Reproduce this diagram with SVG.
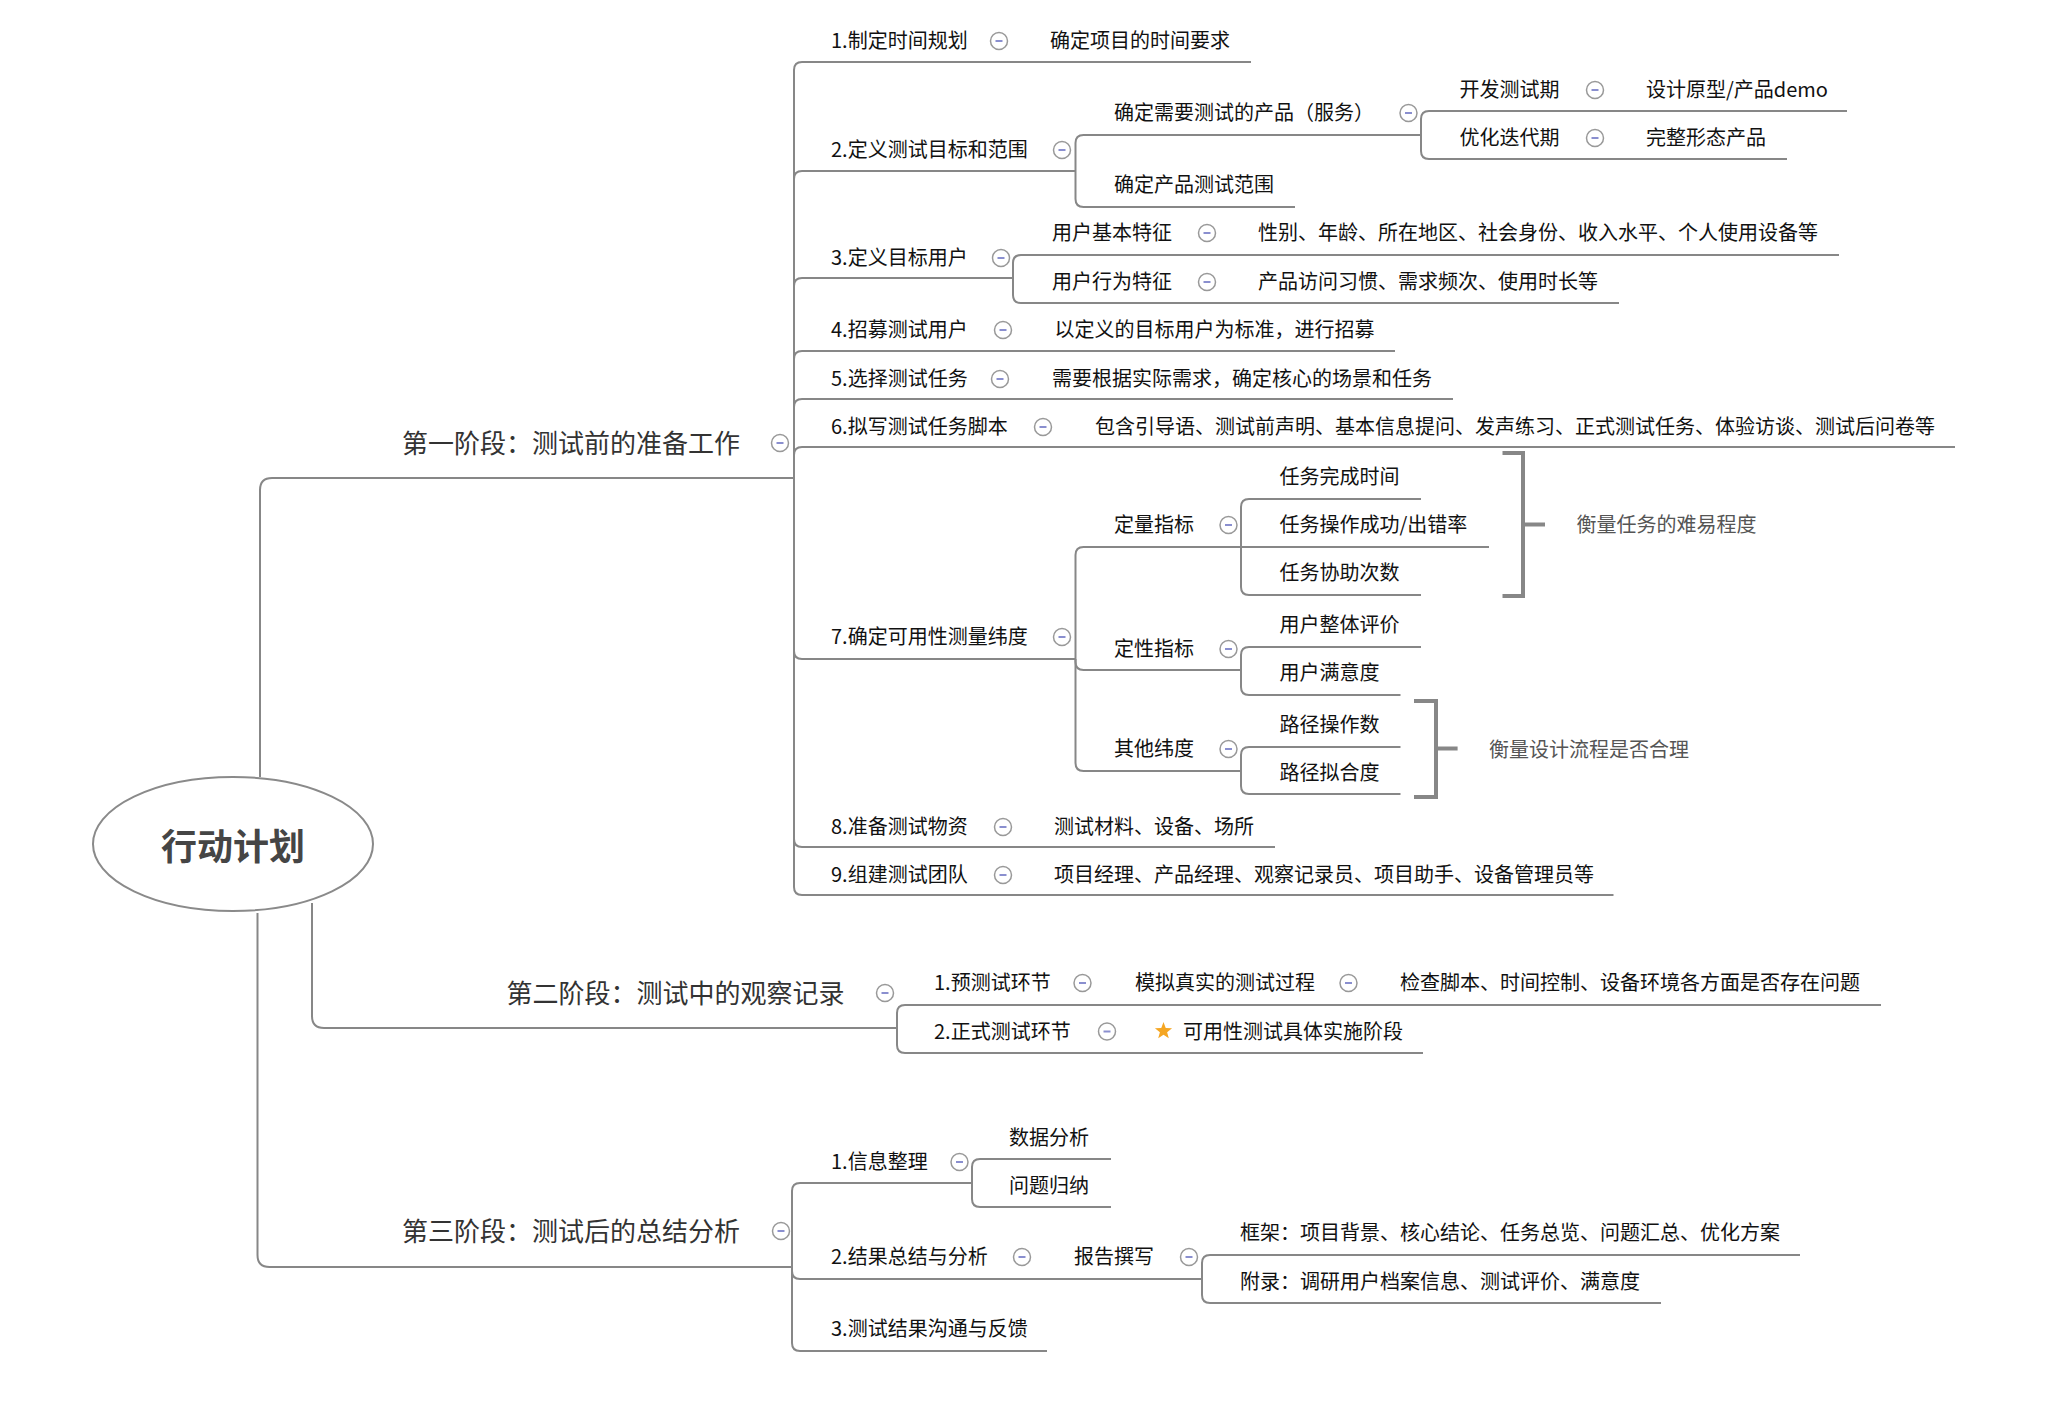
<svg xmlns="http://www.w3.org/2000/svg" xmlns:xlink="http://www.w3.org/1999/xlink" width="2050" height="1414" viewBox="0 0 2050 1414">
<style>
text{font-family:"Noto Sans CJK SC","Noto Sans",sans-serif;dominant-baseline:central;transform:translateY(-1.5px)}
.t{font-size:20px;fill:#111}
.s{font-size:26px;fill:#333}
.r{font-size:36px;font-weight:bold;fill:#454545}
.n{font-size:20px;fill:#555}
.ln{fill:none;stroke:#878787;stroke-width:2}
.br{fill:none;stroke:#878787;stroke-width:4}
</style>
<defs>
<g id="cb"><circle r="8.5" fill="#fff" stroke="#999" stroke-width="1.5"/><line x1="-3.5" x2="3.5" y1="0" y2="0" stroke="#8a8fcf" stroke-width="2"/></g>
</defs>
<rect width="2050" height="1414" fill="#fff"/>
<g id="connectors" class="ln">
<path d="M260,777 V490 Q260,478 272,478 H794"/>
<path d="M312,903 V1016 Q312,1028 324,1028 H897"/>
<path d="M257.5,913 V1255 Q257.5,1267 269.5,1267 H792"/>
<path d="M794,478 V70 Q794,62 802,62 H1251"/>
<path d="M794,478 V179 Q794,171 802,171 H1075.5"/>
<path d="M794,478 V286 Q794,278 802,278 H1013"/>
<path d="M794,478 V359 Q794,351 802,351 H1395"/>
<path d="M794,478 V407 Q794,399 802,399 H1453"/>
<path d="M794,478 V455 Q794,447 802,447 H1955"/>
<path d="M794,478 V651 Q794,659 802,659 H1075.5"/>
<path d="M794,478 V839 Q794,847 802,847 H1275"/>
<path d="M794,478 V887 Q794,895 802,895 H1613.5"/>
<path d="M1075.5,171 V143 Q1075.5,135 1083.5,135 H1421"/>
<path d="M1075.5,171 V199 Q1075.5,207 1083.5,207 H1295"/>
<path d="M1421,135 V119 Q1421,111 1429,111 H1847"/>
<path d="M1421,135 V151 Q1421,159 1429,159 H1787"/>
<path d="M1013,278 V263 Q1013,255 1021,255 H1839"/>
<path d="M1013,278 V295 Q1013,303 1021,303 H1619"/>
<path d="M1075.5,659 V555 Q1075.5,547 1083.5,547 H1241"/>
<path d="M1075.5,659 V662 Q1075.5,670 1083.5,670 H1241"/>
<path d="M1075.5,659 V763 Q1075.5,771 1083.5,771 H1241"/>
<path d="M1241,547 V507 Q1241,499 1249,499 H1421"/>
<path d="M1241,547 H1489"/>
<path d="M1241,547 V587 Q1241,595 1249,595 H1421"/>
<path d="M1241,670 V655 Q1241,647 1249,647 H1421"/>
<path d="M1241,670 V687 Q1241,695 1249,695 H1400.5"/>
<path d="M1241,771 V755 Q1241,747 1249,747 H1400.5"/>
<path d="M1241,771 V786 Q1241,794 1249,794 H1400.5"/>
<path d="M897,1028 V1013 Q897,1005 905,1005 H1881"/>
<path d="M897,1028 V1045 Q897,1053 905,1053 H1423"/>
<path d="M792,1267 V1191 Q792,1183 800,1183 H972"/>
<path d="M792,1267 V1271 Q792,1279 800,1279 H1202"/>
<path d="M792,1267 V1343 Q792,1351 800,1351 H1047"/>
<path d="M972,1183 V1167 Q972,1159 980,1159 H1111"/>
<path d="M972,1183 V1199 Q972,1207 980,1207 H1111"/>
<path d="M1202,1279 V1263 Q1202,1255 1210,1255 H1800"/>
<path d="M1202,1279 V1295 Q1202,1303 1210,1303 H1661"/>
</g>
<g id="root"><ellipse cx="233" cy="844" rx="140" ry="67" fill="#fff" stroke="#8a8a8a" stroke-width="2"/><text class="r" x="233" y="845" text-anchor="middle">行动计划</text></g>
<g id="stage1"><text class="s" x="402" y="443">第一阶段：测试前的准备工作</text><use xlink:href="#cb" x="780" y="443"/></g>
<g id="s1-1"><text class="t" x="831" y="41">1.制定时间规划</text><use xlink:href="#cb" x="999" y="41"/></g>
<g id="s1-1a"><text class="t" x="1050" y="41">确定项目的时间要求</text></g>
<g id="s1-2"><text class="t" x="831" y="150">2.定义测试目标和范围</text><use xlink:href="#cb" x="1062" y="150"/></g>
<g id="s1-2a"><text class="t" x="1114" y="113">确定需要测试的产品（服务）</text><use xlink:href="#cb" x="1408.5" y="113"/></g>
<g id="s1-2a1"><text class="t" x="1459.5" y="90">开发测试期</text><use xlink:href="#cb" x="1595" y="90"/></g>
<g id="s1-2a1v"><text class="t" x="1646" y="90">设计原型/产品demo</text></g>
<g id="s1-2a2"><text class="t" x="1459.5" y="138">优化迭代期</text><use xlink:href="#cb" x="1595" y="138"/></g>
<g id="s1-2a2v"><text class="t" x="1646" y="138">完整形态产品</text></g>
<g id="s1-2b"><text class="t" x="1114" y="185">确定产品测试范围</text></g>
<g id="s1-3"><text class="t" x="831" y="258">3.定义目标用户</text><use xlink:href="#cb" x="1001" y="258"/></g>
<g id="s1-3a"><text class="t" x="1052" y="233">用户基本特征</text><use xlink:href="#cb" x="1207" y="233"/></g>
<g id="s1-3av"><text class="t" x="1258" y="233">性别、年龄、所在地区、社会身份、收入水平、个人使用设备等</text></g>
<g id="s1-3b"><text class="t" x="1052" y="282">用户行为特征</text><use xlink:href="#cb" x="1207" y="282"/></g>
<g id="s1-3bv"><text class="t" x="1258" y="282">产品访问习惯、需求频次、使用时长等</text></g>
<g id="s1-4"><text class="t" x="831" y="330">4.招募测试用户</text><use xlink:href="#cb" x="1003" y="330"/></g>
<g id="s1-4a"><text class="t" x="1054.5" y="330">以定义的目标用户为标准，进行招募</text></g>
<g id="s1-5"><text class="t" x="831" y="379">5.选择测试任务</text><use xlink:href="#cb" x="1000" y="379"/></g>
<g id="s1-5a"><text class="t" x="1052" y="379">需要根据实际需求，确定核心的场景和任务</text></g>
<g id="s1-6"><text class="t" x="831" y="427">6.拟写测试任务脚本</text><use xlink:href="#cb" x="1043" y="427"/></g>
<g id="s1-6a"><text class="t" x="1095" y="427">包含引导语、测试前声明、基本信息提问、发声练习、正式测试任务、体验访谈、测试后问卷等</text></g>
<g id="s1-7"><text class="t" x="831" y="637">7.确定可用性测量纬度</text><use xlink:href="#cb" x="1062" y="637"/></g>
<g id="s1-7a"><text class="t" x="1114" y="525">定量指标</text><use xlink:href="#cb" x="1228.5" y="525"/></g>
<g id="s1-7a1"><text class="t" x="1279.5" y="477">任务完成时间</text></g>
<g id="s1-7a2"><text class="t" x="1279.5" y="525">任务操作成功/出错率</text></g>
<g id="s1-7a3"><text class="t" x="1279.5" y="573">任务协助次数</text></g>
<g id="s1-7b"><text class="t" x="1114" y="649">定性指标</text><use xlink:href="#cb" x="1228.5" y="649"/></g>
<g id="s1-7b1"><text class="t" x="1279.5" y="625">用户整体评价</text></g>
<g id="s1-7b2"><text class="t" x="1279.5" y="673">用户满意度</text></g>
<g id="s1-7c"><text class="t" x="1114" y="749">其他纬度</text><use xlink:href="#cb" x="1228.5" y="749"/></g>
<g id="s1-7c1"><text class="t" x="1279.5" y="725">路径操作数</text></g>
<g id="s1-7c2"><text class="t" x="1279.5" y="773">路径拟合度</text></g>
<g id="summary1"><path class="br" d="M1502.5,453 H1523 V596 H1502.5 M1523,524.5 H1545"/><text class="n" x="1576.5" y="525">衡量任务的难易程度</text></g>
<g id="summary2"><path class="br" d="M1414,701 H1436 V797 H1414 M1436,748.5 H1457.6"/><text class="n" x="1489" y="750">衡量设计流程是否合理</text></g>
<g id="s1-8"><text class="t" x="831" y="827">8.准备测试物资</text><use xlink:href="#cb" x="1003" y="827"/></g>
<g id="s1-8a"><text class="t" x="1054" y="827">测试材料、设备、场所</text></g>
<g id="s1-9"><text class="t" x="831" y="875">9.组建测试团队</text><use xlink:href="#cb" x="1003" y="875"/></g>
<g id="s1-9a"><text class="t" x="1054" y="875">项目经理、产品经理、观察记录员、项目助手、设备管理员等</text></g>
<g id="stage2"><text class="s" x="506.5" y="993">第二阶段：测试中的观察记录</text><use xlink:href="#cb" x="885" y="993"/></g>
<g id="s2-1"><text class="t" x="934" y="983">1.预测试环节</text><use xlink:href="#cb" x="1082.5" y="983"/></g>
<g id="s2-1a"><text class="t" x="1135" y="983">模拟真实的测试过程</text><use xlink:href="#cb" x="1348.5" y="983"/></g>
<g id="s2-1b"><text class="t" x="1400" y="983">检查脚本、时间控制、设备环境各方面是否存在问题</text></g>
<g id="s2-2"><text class="t" x="934" y="1031.5">2.正式测试环节</text><use xlink:href="#cb" x="1107" y="1031.5"/></g>
<g id="s2-2a"><polygon fill="#f5a623" transform="translate(1163.5,1031)" points="0,-9 2.23,-3.07 8.56,-2.78 3.61,1.17 5.29,7.28 0,3.8 -5.29,7.28 -3.61,1.17 -8.56,-2.78 -2.23,-3.07"/><text class="t" x="1183" y="1031.5">可用性测试具体实施阶段</text></g>
<g id="stage3"><text class="s" x="402" y="1231">第三阶段：测试后的总结分析</text><use xlink:href="#cb" x="781" y="1231"/></g>
<g id="s3-1"><text class="t" x="831" y="1162">1.信息整理</text><use xlink:href="#cb" x="959.5" y="1162"/></g>
<g id="s3-1a"><text class="t" x="1009" y="1138">数据分析</text></g>
<g id="s3-1b"><text class="t" x="1009" y="1186">问题归纳</text></g>
<g id="s3-2"><text class="t" x="831" y="1257">2.结果总结与分析</text><use xlink:href="#cb" x="1022" y="1257"/></g>
<g id="s3-2a"><text class="t" x="1074" y="1257">报告撰写</text><use xlink:href="#cb" x="1189" y="1257"/></g>
<g id="s3-2a1"><text class="t" x="1240" y="1233">框架：项目背景、核心结论、任务总览、问题汇总、优化方案</text></g>
<g id="s3-2a2"><text class="t" x="1240" y="1282">附录：调研用户档案信息、测试评价、满意度</text></g>
<g id="s3-3"><text class="t" x="831" y="1329">3.测试结果沟通与反馈</text></g>
</svg>
